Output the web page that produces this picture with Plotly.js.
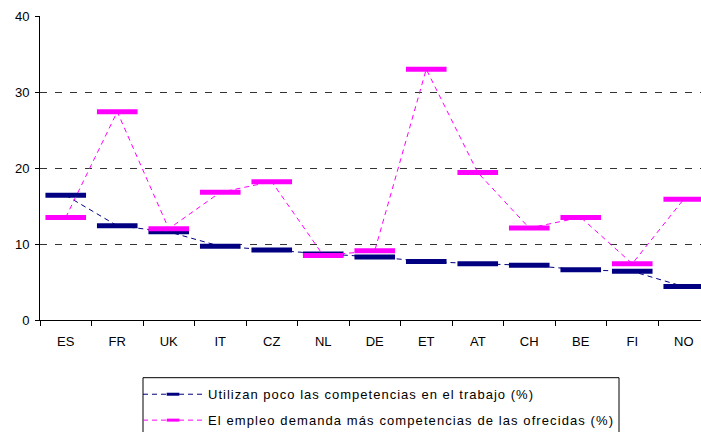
<!DOCTYPE html>
<html><head><meta charset="utf-8">
<script src="https://cdn.plot.ly/plotly-3.0.1.min.js"></script>
<style>body{margin:0;padding:0;background:#fff}#chart{width:701px;height:432px}</style>
</head><body><div id="chart"></div>
<script>
const countries = ["ES","FR","UK","IT","CZ","NL","DE","ET","AT","CH","BE","FI","NO"];
const utilizanPoco = [16.4,12.4,11.6,9.7,9.2,8.7,8.3,7.7,7.4,7.2,6.6,6.4,4.4];
const empleoDemanda = [13.5,27.4,12.0,16.8,18.2,8.5,9.1,33.0,19.4,12.1,13.5,7.4,15.9];
const seriesNames = ["Utilizan poco las competencias en el trabajo (%)","El empleo demanda más competencias de las ofrecidas (%)"];
const seriesColors = ['#000080','#FF00FF'];
const yTicks = [0,10,20,30,40];

function trace(y, i){
  return {x: countries, y: y, name: seriesNames[i], type:'scatter', mode:'lines+markers', showlegend:false,
    line:{color:seriesColors[i], width:1, dash:'5px,4px'},
    marker:{symbol:'line-ew', size:29, color:seriesColors[i], line:{color:seriesColors[i], width:5}}};
}
function legendEntry(i){
  return {x:[null], y:[null], name: seriesNames[i], type:'scatter', mode:'lines+markers', showlegend:true,
    legendgroup:'g'+i,
    line:{color:seriesColors[i], width:1, dash:'5px,4px'},
    marker:{symbol:'line-ew', size:9, color:seriesColors[i], line:{color:seriesColors[i], width:3}}};
}
const data = [trace(utilizanPoco,0), trace(empleoDemanda,1), legendEntry(0), legendEntry(1)];
const layout = {
  width:701, height:432,
  margin:{l:40, r:0, t:16, b:112, autoexpand:false},
  paper_bgcolor:'#fff', plot_bgcolor:'#fff',
  font:{family:'Arial, Liberation Sans, sans-serif', size:13, color:'#000'},
  showlegend:true,
  xaxis:{type:'category', range:[-0.5,12.335], showline:true, linecolor:'#000', linewidth:1,
    ticks:'outside', tickson:'boundaries', ticklen:5, tickcolor:'#000', showgrid:false, zeroline:false,
    tickfont:{size:13}, ticklabelstandoff:9, automargin:false},
  yaxis:{range:[0,40], tickvals:yTicks, showline:true, linecolor:'#000', linewidth:1,
    ticks:'outside', ticklen:4, tickcolor:'#000', showgrid:true, gridcolor:'#333', griddash:'7px,8px',
    gridwidth:1, zeroline:false, tickfont:{size:13}, ticklabelstandoff:3, automargin:false},
  legend:{x:(138-40)/661, xanchor:'left', y:-0.195, yanchor:'top', borderwidth:0,
    bgcolor:'rgba(0,0,0,0)', font:{size:13}, itemwidth:60, orientation:'v', tracegroupgap:6},
  shapes:[{type:'rect', xref:'paper', yref:'paper',
    x0:(143-40)/661, x1:(619-40)/661, y0:(320-377.7)/304, y1:(320-445)/304,
    line:{color:'#000', width:1}, fillcolor:'rgba(0,0,0,0)', layer:'above'}]
};
const targetWidths = [325, 405];
Plotly.newPlot('chart', data, layout, {displayModeBar:false, staticPlot:true}).then(function(){
  document.querySelectorAll('#chart .legend [clip-path]').forEach(function(el){ el.removeAttribute('clip-path'); });
  const texts = document.querySelectorAll('#chart .legendtext');
  texts.forEach(function(t, i){
    if (targetWidths[i]) { t.setAttribute('textLength', targetWidths[i]); t.setAttribute('lengthAdjust','spacing'); }
  });
});
</script></body></html>
